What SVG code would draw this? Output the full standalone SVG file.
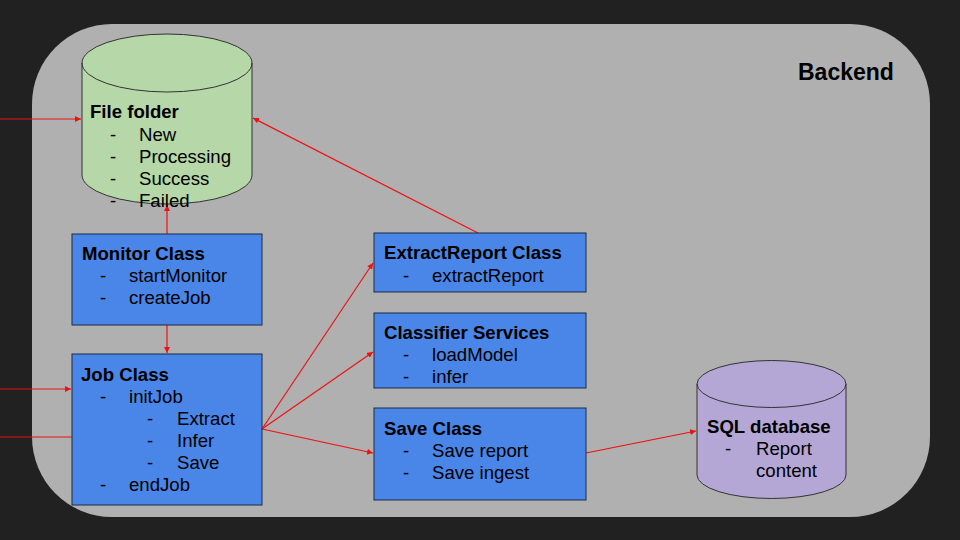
<svg xmlns="http://www.w3.org/2000/svg" width="960" height="540" viewBox="0 0 960 540">
<defs>
<style>
text{font-family:"Liberation Sans",Arial,sans-serif;font-size:18.6px;fill:#000}
.b{font-weight:bold}
.box{fill:#4a86e8;stroke:#1c2b45;stroke-width:1}
.cyl{stroke:#333;stroke-width:1}
.c{fill:none;stroke:#ee1111;stroke-width:1.2}
</style>
<marker id="ah" viewBox="0 0 10 10" refX="10" refY="5" markerWidth="6" markerHeight="6" orient="auto" markerUnits="userSpaceOnUse"><path d="M0,0 L10,5 L0,10 z" fill="#ee1111"/></marker>
</defs>
<rect width="960" height="540" fill="#212121"/>
<rect x="32" y="24" width="898" height="493" rx="80" ry="80" fill="#b0b0b0"/>
<text class="b" x="798" y="80" style="font-size:23px">Backend</text>

<g id="connectors">
<line class="c" x1="0" y1="119" x2="81" y2="119" marker-end="url(#ah)"/>
<line class="c" x1="0" y1="389" x2="71" y2="389" marker-end="url(#ah)"/>
<line class="c" x1="0" y1="437" x2="72" y2="437"/>
<line class="c" x1="167" y1="234" x2="167" y2="205" marker-end="url(#ah)"/>
<line class="c" x1="167" y1="325" x2="167" y2="353" marker-end="url(#ah)"/>
<line class="c" x1="478" y1="233" x2="253" y2="118" marker-end="url(#ah)"/>
<line class="c" x1="262" y1="429" x2="373" y2="263" marker-end="url(#ah)"/>
<line class="c" x1="262" y1="429" x2="373" y2="352" marker-end="url(#ah)"/>
<line class="c" x1="262" y1="429" x2="373" y2="453" marker-end="url(#ah)"/>
<line class="c" x1="586" y1="453" x2="696" y2="431" marker-end="url(#ah)"/>
</g>

<g id="file-folder">
<path class="cyl" fill="#b6d7a8" d="M82,63 A85,29 0 0 1 252,63 L252,175 A85,29 0 0 1 82,175 Z"/>
<path class="cyl" fill="none" d="M82,63 A85,29 0 0 0 252,63"/>
<text class="b" x="90" y="118">File folder</text>
<text x="110" y="141">-</text><text x="139" y="141">New</text>
<text x="110" y="163">-</text><text x="139" y="163">Processing</text>
<text x="110" y="185">-</text><text x="139" y="185">Success</text>
<text x="110" y="207">-</text><text x="139" y="207">Failed</text>
</g>

<g id="monitor-class">
<rect class="box" x="72" y="234" width="190" height="91"/>
<text class="b" x="82" y="260">Monitor Class</text>
<text x="100" y="282">-</text><text x="129" y="282">startMonitor</text>
<text x="100" y="304">-</text><text x="129" y="304">createJob</text>
</g>

<g id="job-class">
<rect class="box" x="72" y="354" width="190" height="151"/>
<text class="b" x="81" y="381">Job Class</text>
<text x="100" y="403">-</text><text x="129" y="403">initJob</text>
<text x="147" y="425">-</text><text x="177" y="425">Extract</text>
<text x="147" y="447">-</text><text x="177" y="447">Infer</text>
<text x="147" y="469">-</text><text x="177" y="469">Save</text>
<text x="100" y="491">-</text><text x="129" y="491">endJob</text>
</g>

<g id="extractreport-class">
<rect class="box" x="374" y="233" width="212" height="59"/>
<text class="b" x="384" y="259">ExtractReport Class</text>
<text x="403" y="282">-</text><text x="432" y="282">extractReport</text>
</g>

<g id="classifier-services">
<rect class="box" x="374" y="313" width="212" height="75"/>
<text class="b" x="384" y="339">Classifier Services</text>
<text x="403" y="361">-</text><text x="432" y="361">loadModel</text>
<text x="403" y="383">-</text><text x="432" y="383">infer</text>
</g>

<g id="save-class">
<rect class="box" x="374" y="408" width="212" height="92"/>
<text class="b" x="384" y="435">Save Class</text>
<text x="403" y="457">-</text><text x="432" y="457">Save report</text>
<text x="403" y="479">-</text><text x="432" y="479">Save ingest</text>
</g>

<g id="sql-database">
<path class="cyl" fill="#b4a7d6" d="M697,384 A74.5,23.5 0 0 1 846,384 L846,475 A74.5,23.5 0 0 1 697,475 Z"/>
<path class="cyl" fill="none" d="M697,384 A74.5,23.5 0 0 0 846,384"/>
<text class="b" x="707" y="433">SQL database</text>
<text x="725" y="455">-</text><text x="756" y="455">Report</text>
<text x="756" y="477">content</text>
</g>
</svg>
